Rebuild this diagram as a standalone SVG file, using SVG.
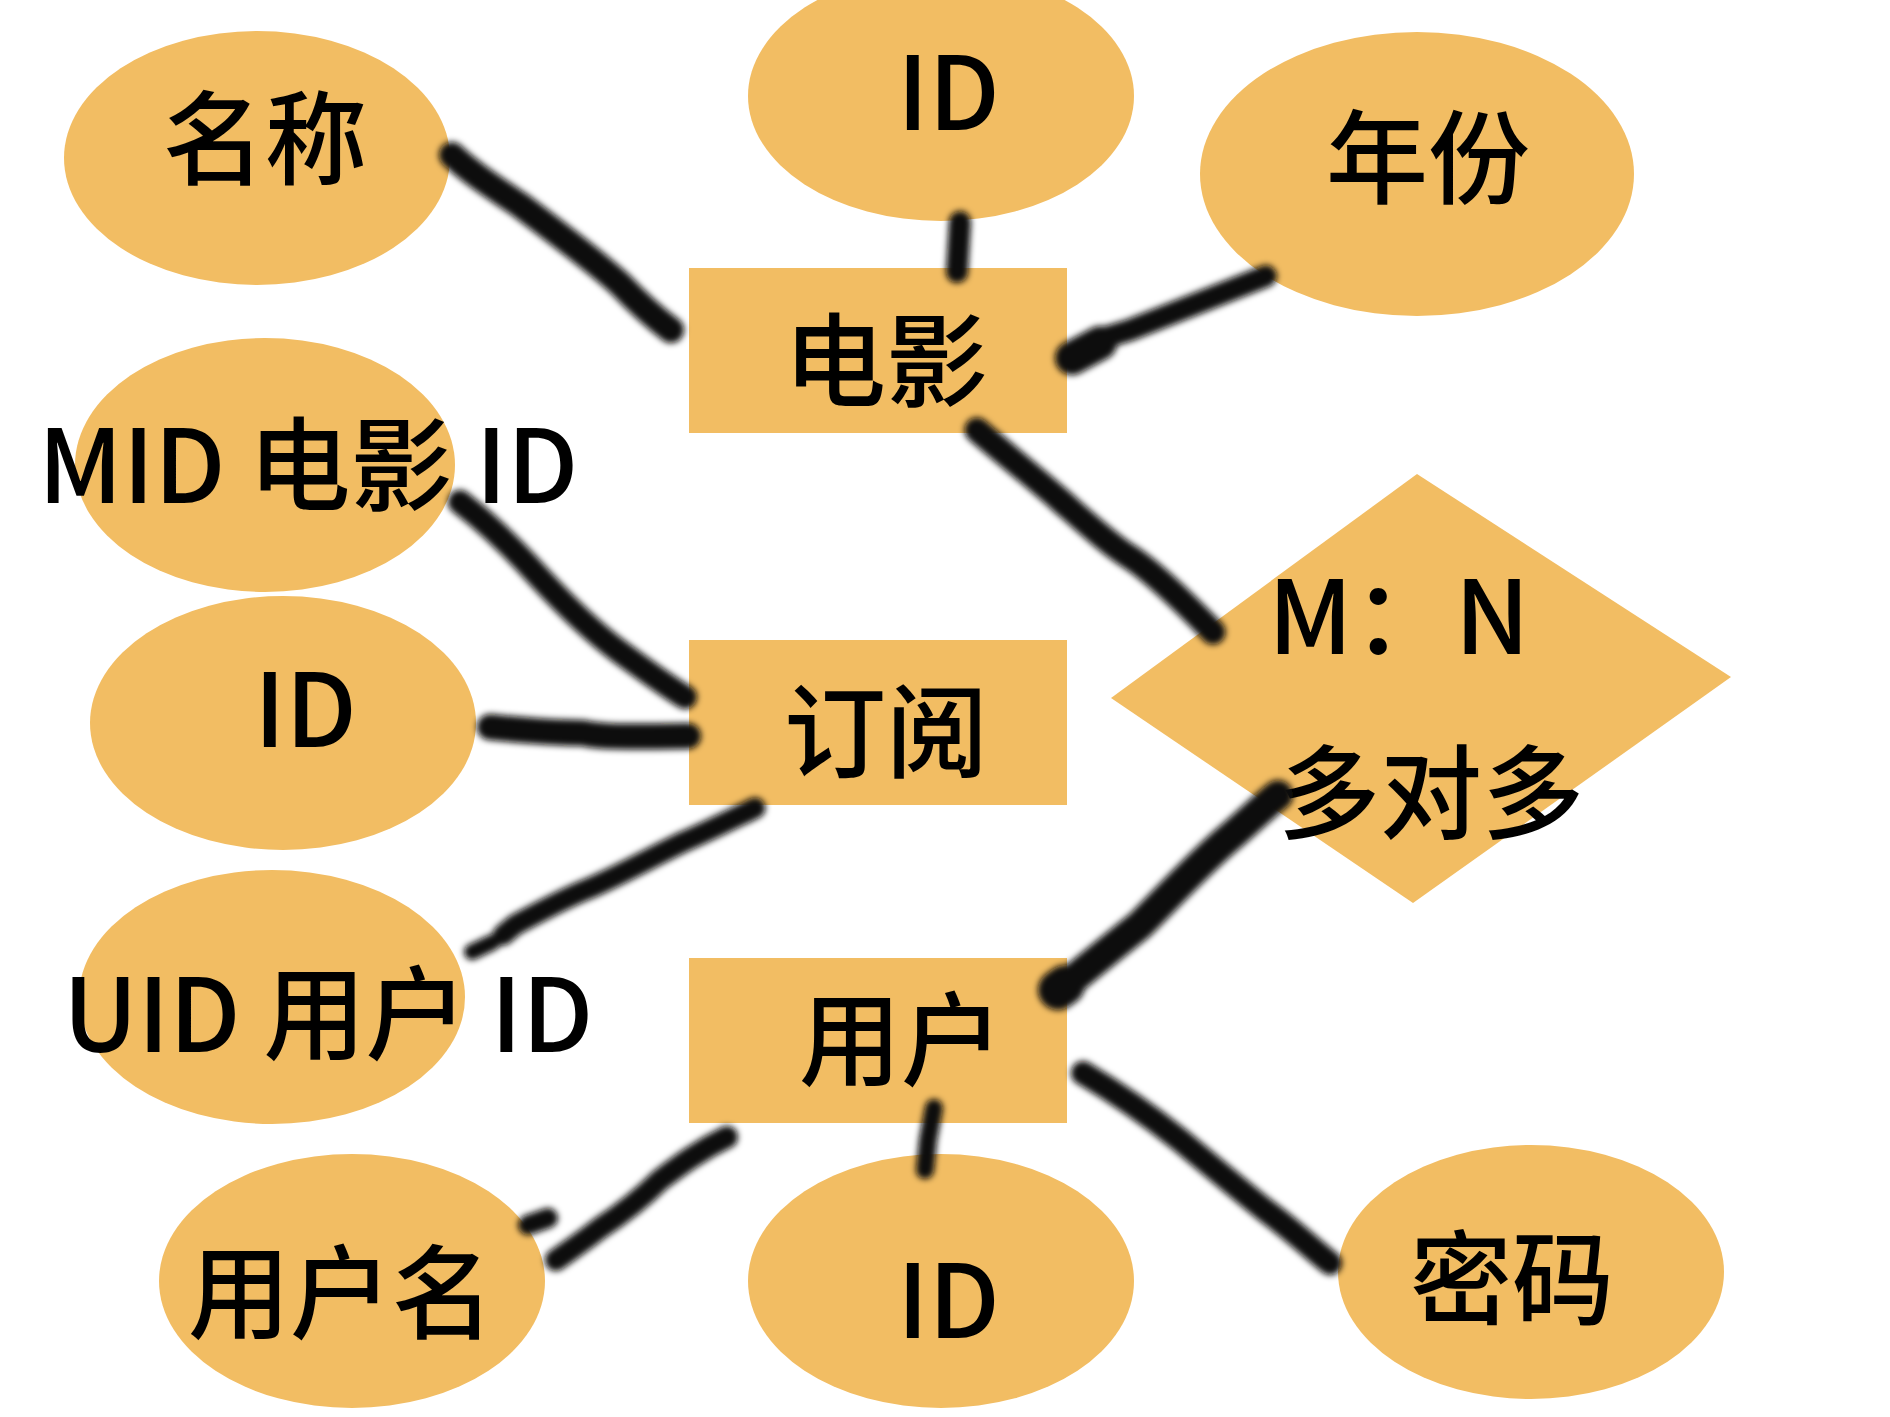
<svg xmlns="http://www.w3.org/2000/svg" width="1890" height="1417" viewBox="0 0 1890 1417">
<defs>
<style>
.n{fill:#F2BD63}
.t{font-family:'Noto Sans CJK SC','Noto Sans',sans-serif;font-size:102px;font-weight:500;fill:#000}
.c{fill:none;stroke:#0C0B09;stroke-linecap:round;stroke-linejoin:round}
</style>
<filter id="blur" x="-20%" y="-20%" width="140%" height="140%"><feGaussianBlur stdDeviation="3"/></filter>
</defs>
<rect width="1890" height="1417" fill="#fff"/>
<g id="nodes">
<g id="attr-name"><ellipse class="n" cx="257" cy="158" rx="193" ry="127"/><text class="t" x="163" y="177">名称</text></g>
<g id="attr-movie-id"><ellipse class="n" cx="941" cy="96" rx="193" ry="125"/><text class="t" x="897" y="130">ID</text></g>
<g id="attr-year"><ellipse class="n" cx="1417" cy="174" rx="217" ry="142"/><text class="t" x="1326" y="196">年份</text></g>
<g id="attr-mid"><ellipse class="n" cx="265" cy="465" rx="190" ry="127"/><text class="t" x="38" y="503">MID 电影 ID</text></g>
<g id="attr-sub-id"><ellipse class="n" cx="283" cy="723" rx="193" ry="127"/><text class="t" x="254" y="747">ID</text></g>
<g id="attr-uid"><ellipse class="n" cx="272" cy="997" rx="193" ry="127"/><text class="t" x="63" y="1052">UID 用户 ID</text></g>
<g id="attr-username"><ellipse class="n" cx="352" cy="1281" rx="193" ry="127"/><text class="t" x="188" y="1331">用户名</text></g>
<g id="attr-user-id"><ellipse class="n" cx="941" cy="1281" rx="193" ry="127"/><text class="t" x="897" y="1338">ID</text></g>
<g id="attr-password"><ellipse class="n" cx="1531" cy="1272" rx="193" ry="127"/><text class="t" x="1410" y="1317">密码</text></g>
<g id="entity-movie"><rect class="n" x="689" y="268" width="378" height="165"/><text class="t" x="784" y="399">电影</text></g>
<g id="entity-subscribe"><rect class="n" x="689" y="640" width="378" height="165"/><text class="t" x="784" y="770">订阅</text></g>
<g id="entity-user"><rect class="n" x="689" y="958" width="378" height="165"/><text class="t" x="799" y="1078">用户</text></g>
<g id="rel-mn"><polygon class="n" points="1417,474 1731,677 1413,903 1111,698"/><text class="t" x="1268" y="654">M：N</text><text class="t" x="1278" y="831">多对多</text></g>
</g>
<g id="connectors" filter="url(#blur)">
<path class="c" stroke-width="26" d="M452,155 C470,172 490,185 520,205 C560,235 600,265 621,285 C640,305 655,318 671,330"/>
<path class="c" stroke-width="22" d="M960,222 L957,272"/>
<path class="c" stroke-width="22" d="M1072,360 L1107,337 L1130,330 L1266,276"/>
<path class="c" stroke-width="34" d="M1072,358 L1100,343"/>
<path class="c" stroke-width="5" d="M975,421 L976,422"/>
<path class="c" stroke-width="25" d="M977,430 C1000,450 1035,478 1060,500 C1085,522 1110,545 1130,557 C1150,570 1185,603 1213,632"/>
<path class="c" stroke-width="24" d="M460,502 C490,525 515,550 540,578 C565,605 590,630 620,652 C645,670 665,685 685,697"/>
<path class="c" stroke-width="26" d="M490,727 C530,731 560,733 583,733 C600,737 620,737 688,736"/>
<path class="c" stroke-width="21" d="M755,808 C720,825 700,835 683,842 C650,858 620,875 590,888 C560,900 540,912 515,925 L503,935"/>
<path class="c" stroke-width="16" d="M472,952 L493,942"/>
<path class="c" stroke-width="30" d="M1060,990 C1090,965 1115,945 1140,925 C1170,895 1200,862 1230,837 C1250,820 1265,805 1278,795"/>
<path class="c" stroke-width="40" d="M1058,990 L1065,985"/>
<path class="c" stroke-width="22" d="M727,1137 C700,1150 680,1165 660,1180 C640,1200 620,1215 600,1228 C585,1240 570,1250 556,1260"/>
<path class="c" stroke-width="20" d="M528,1225 L548,1218"/>
<path class="c" stroke-width="18" d="M934,1108 L928,1140 L925,1170"/>
<path class="c" stroke-width="24" d="M1083,1073 C1100,1083 1140,1108 1180,1140 C1210,1165 1240,1190 1265,1210 C1290,1228 1310,1247 1330,1263"/>
</g>
</svg>
